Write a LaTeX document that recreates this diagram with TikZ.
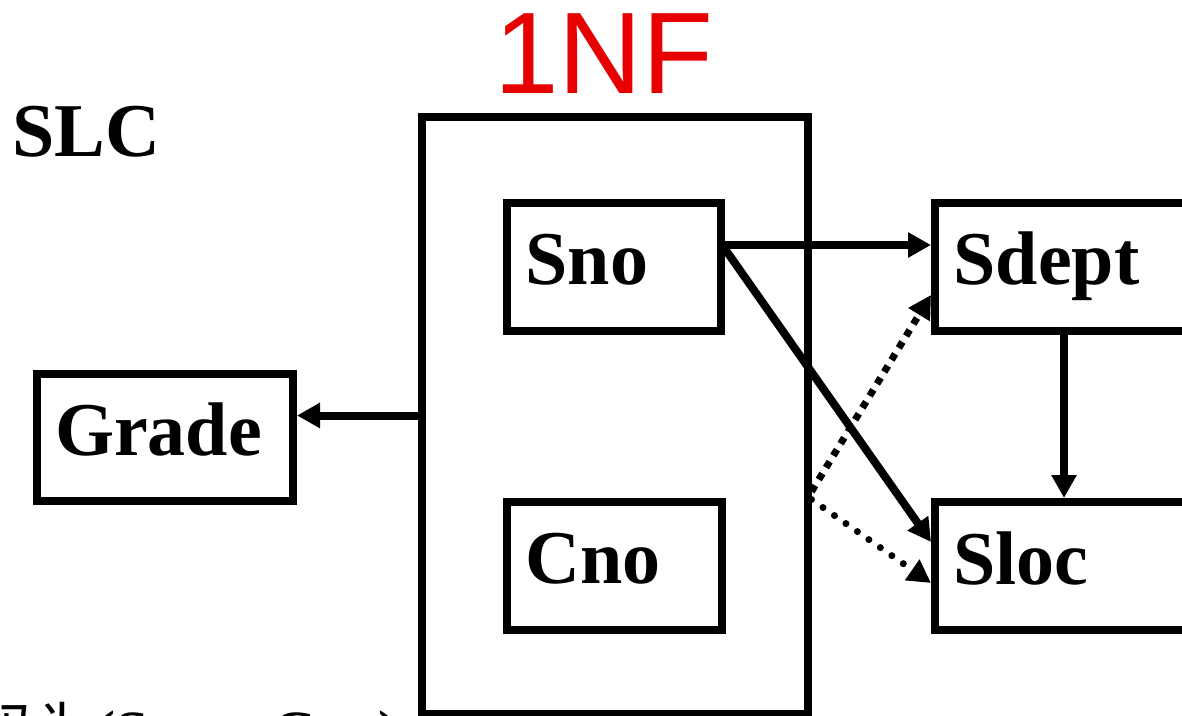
\documentclass[tikz,border=0pt]{standalone}
\usepackage{fontspec}
\setmainfont{Liberation Serif}
\setsansfont{Liberation Sans}
\newfontfamily\cjk{Noto Sans CJK SC}
\usetikzlibrary{arrows.meta}
\definecolor{nfred}{RGB}{230,0,0}
\tikzset{
  box/.style={draw, line width=4pt, inner xsep=9.25pt, inner ysep=0pt, align=left,
    text height=18pt, text depth=0pt, minimum height=64pt,
    font=\bfseries\fontsize{38}{38}\selectfont},
  bigbox/.style={draw, line width=4pt, inner sep=0pt},
  tip/.style={-{Triangle[length=11.5pt,width=12pt]}},
  arr/.style={line width=4pt, tip},
  sqdot/.style={line width=3.5pt, dash pattern=on 3.5pt off 3.5pt, tip},
  rddot/.style={line width=3.5pt, line cap=round, dash pattern=on 0pt off 7pt, tip},
  lbl/.style={anchor=base west, inner sep=0pt}
}
\begin{document}
\begin{tikzpicture}[x=0.5pt,y=-0.5pt]
\useasboundingbox (0,0) rectangle (1182,716);
\clip (0,0) rectangle (1182,716);
% title and labels
\node[lbl, font=\sffamily\fontsize{58}{58}\selectfont, text=nfred] (title) at (494,94) {1NF};
\node[lbl, font=\bfseries\fontsize{38}{38}\selectfont] (slc) at (12,157) {SLC};
\node[lbl, font=\bfseries\fontsize{30}{30}\selectfont] (key) at (-25,752) {{\cjk\mdseries 码为}(Sno{\cjk\mdseries ，}Cno)};
% boxes
\node[bigbox, minimum width=192.75pt, minimum height=298.5pt] (rel) at (614.75,415.5) {};
\node[box, text width=88.5pt] (sno) at (614,267) {Sno};
\node[box, text width=89pt] (cno) at (614.5,565.5) {Cno};
\node[box, text width=109.75pt, minimum height=63.5pt] (grade) at (164.75,437) {Grade};
\node[box, text width=131.5pt] (sdept) at (1085,267) {Sdept};
\node[box, text width=131.5pt] (sloc) at (1085,566) {Sloc};
% connectors
\draw[arr] (rel.west) -- (rel.west -| grade.east);
\draw[arr] ([yshift=11pt]sno.east) -- ([yshift=11pt]sdept.west);
\draw[arr] ([yshift=9pt]sno.east) -- ([yshift=12pt]sloc.west);
\draw[arr] ([xshift=-10.5pt]sdept.south) -- ([xshift=-10.5pt]sloc.north);
\draw[sqdot] ([yshift=-38pt]rel.east) -- ([yshift=-14pt]sdept.west);
\draw[rddot] ([yshift=-42pt]rel.east) -- ([yshift=-8.5pt]sloc.west);
\end{tikzpicture}
\end{document}
